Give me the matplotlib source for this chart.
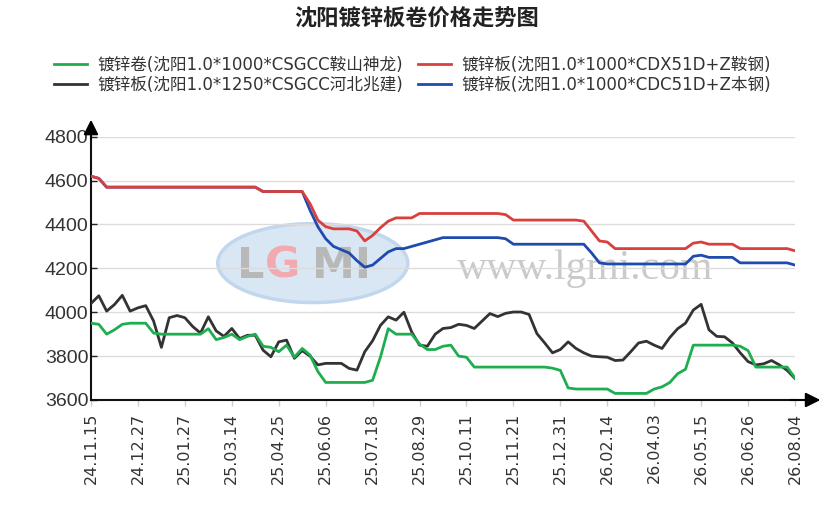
import matplotlib
matplotlib.use("Agg")
import matplotlib.pyplot as plt
from matplotlib.patches import Ellipse
import numpy as np

plt.rcParams['font.family'] = ['Noto Sans CJK SC', 'DejaVu Sans']

# tick labels shown every 6 points
date_labels = ['24.11.15', '24.12.27', '25.01.27', '25.03.14', '25.04.25', '25.06.06',
               '25.07.18', '25.08.29', '25.10.11', '25.11.21', '25.12.31', '26.02.14',
               '26.04.03', '26.05.15', '26.06.26', '26.08.04']

names = ['镀锌卷(沈阳1.0*1000*CSGCC鞍山神龙)',
         '镀锌板(沈阳1.0*1250*CSGCC河北兆建)',
         '镀锌板(沈阳1.0*1000*CDX51D+Z鞍钢)',
         '镀锌板(沈阳1.0*1000*CDC51D+Z本钢)']

green = [3950, 3945, 3900, 3920, 3945, 3950, 3950, 3950, 3905, 3900,
         3900, 3900, 3900, 3900, 3900, 3925, 3875, 3885, 3900, 3875,
         3890, 3900, 3845, 3840, 3820, 3850, 3795, 3835, 3805, 3730,
         3680, 3680, 3680, 3680, 3680, 3680, 3690, 3795, 3925, 3900,
         3900, 3900, 3855, 3830, 3830, 3845, 3850, 3800, 3795, 3750,
         3750, 3750, 3750, 3750, 3750, 3750, 3750, 3750, 3750, 3745,
         3735, 3655, 3650, 3650, 3650, 3650, 3650, 3630, 3630, 3630,
         3630, 3630, 3650, 3660, 3680, 3720, 3740, 3850, 3850, 3850,
         3850, 3850, 3850, 3845, 3825, 3750, 3750, 3750, 3750, 3750,
         3700]

black = [4040, 4075, 4005, 4035, 4077, 4005, 4020, 4030, 3960, 3840,
         3975, 3985, 3975, 3935, 3905, 3979, 3915, 3890, 3926, 3880,
         3895, 3895, 3827, 3797, 3865, 3873, 3790, 3825, 3800, 3760,
         3767, 3767, 3767, 3744, 3736, 3820, 3870, 3940, 3979, 3964,
         4000, 3910, 3850, 3845, 3900, 3926, 3930, 3945, 3940, 3926,
         3960, 3994, 3980, 3995, 4001, 4001, 3990, 3903, 3860, 3815,
         3830, 3865, 3835, 3815, 3800, 3797, 3795, 3780, 3782, 3820,
         3860, 3868, 3850, 3835, 3885, 3925, 3950, 4010, 4036, 3920,
         3890, 3888, 3860, 3815, 3775, 3760, 3765, 3780, 3760, 3735,
         3698]

red = [4620, 4610, 4570, 4570, 4570, 4570, 4570, 4570, 4570, 4570,
       4570, 4570, 4570, 4570, 4570, 4570, 4570, 4570, 4570, 4570,
       4570, 4570, 4550, 4550, 4550, 4550, 4550, 4550, 4495, 4420,
       4390, 4380, 4380, 4380, 4370, 4325, 4350, 4385, 4415, 4430,
       4430, 4430, 4450, 4450, 4450, 4450, 4450, 4450, 4450, 4450,
       4450, 4450, 4450, 4445, 4420, 4420, 4420, 4420, 4420, 4420,
       4420, 4420, 4420, 4415, 4370, 4325, 4320, 4290, 4290, 4290,
       4290, 4290, 4290, 4290, 4290, 4290, 4290, 4315, 4320, 4310,
       4310, 4310, 4310, 4290, 4290, 4290, 4290, 4290, 4290, 4290,
       4280]

blue = [4620, 4610, 4570, 4570, 4570, 4570, 4570, 4570, 4570, 4570,
        4570, 4570, 4570, 4570, 4570, 4570, 4570, 4570, 4570, 4570,
        4570, 4570, 4550, 4550, 4550, 4550, 4550, 4550, 4465, 4390,
        4335, 4300, 4285, 4270, 4235, 4205, 4215, 4245, 4275, 4290,
        4290, 4300, 4310, 4320, 4330, 4340, 4340, 4340, 4340, 4340,
        4340, 4340, 4340, 4335, 4310, 4310, 4310, 4310, 4310, 4310,
        4310, 4310, 4310, 4310, 4270, 4225, 4220, 4220, 4220, 4220,
        4220, 4220, 4220, 4220, 4220, 4220, 4220, 4255, 4260, 4250,
        4250, 4250, 4250, 4225, 4225, 4225, 4225, 4225, 4225, 4225,
        4215]

colors = ['#1eae50', '#333333', '#d9403d', '#1f4aae']

fig = plt.figure(figsize=(8.3, 5.21), dpi=100)
ax = fig.add_axes([91 / 830, 121 / 521, 704 / 830, 263.3 / 521])

x = np.arange(len(green))
ax.set_xlim(0, len(green) - 1)
ax.set_ylim(3600, 4800)

# watermark
ax.add_patch(Ellipse((0.315, 0.52), 0.27, 0.30, transform=ax.transAxes,
                     facecolor='#d9e7f5', edgecolor='#c2d7ee', lw=2.5, zorder=0))
wm = dict(transform=ax.transAxes, fontsize=31, fontweight='bold', va='center',
          ha='center', family='DejaVu Sans', zorder=0.5)
ax.text(0.227, 0.51, 'L', color='#b8b8b8', **wm)
ax.text(0.272, 0.51, 'G', color='#f2a9af', **wm)
ax.text(0.356, 0.51, 'MI', color='#b8b8b8', **wm)
ax.text(0.702, 0.50, 'www.lgmi.com', transform=ax.transAxes, fontsize=30,
        color='#cacaca', family='Liberation Serif', ha='center', va='center', zorder=0.5)

for v in range(3800, 4801, 200):
    ax.axhline(v, color='#dcdcdc', lw=1, zorder=1)

series = [green, black, red, blue]
zorders = [4, 3, 6, 5]
handles = []
for vals, name, col, zo in zip(series, names, colors, zorders):
    h, = ax.plot(x, vals, color=col, lw=2, label=name, zorder=zo,
                 solid_joinstyle='round')
    handles.append(h)

ax.set_yticks(range(3600, 4801, 200))
ax.set_xticks(x[::6])
ax.set_xticklabels(date_labels, rotation=90, family='DejaVu Sans', fontsize=11.5,
                   color='#333333')
for lab in ax.get_yticklabels():
    lab.set_family('Liberation Sans')
    lab.set_fontsize(14)
    lab.set_color('#333333')
ax.tick_params(axis='y', direction='in', length=4, width=1, color='#222222', pad=2)
ax.tick_params(axis='x', direction='out', length=4, width=1, color='#cccccc', pad=5)

for s in ['top', 'right']:
    ax.spines[s].set_visible(False)
for s in ['left', 'bottom']:
    ax.spines[s].set_color('#111111')
    ax.spines[s].set_linewidth(1.5)

# axis arrows
ax.annotate('', xy=(1.04, 0), xytext=(0.99, 0), xycoords='axes fraction',
            arrowprops=dict(arrowstyle='-|>', color='black', lw=1.5, mutation_scale=22),
            annotation_clip=False)
ax.annotate('', xy=(0, 1.075), xytext=(0, 0.98), xycoords='axes fraction',
            arrowprops=dict(arrowstyle='-|>', color='black', lw=1.5, mutation_scale=22),
            annotation_clip=False)

fig.text(0.502, 1 - 19 / 521, '沈阳镀锌板卷价格走势图', ha='center', va='center',
         fontsize=16, fontweight='bold', color='#222222')

fig.legend(handles=handles, labels=names, ncol=2, loc='center',
           bbox_to_anchor=(0.497, 1 - 75 / 521), frameon=False,
           prop={'family': ['DejaVu Sans', 'Noto Sans CJK SC'], 'size': 12},
           handlelength=2.0, columnspacing=0.9, handletextpad=0.6, labelspacing=0.1,
           labelcolor='#333333')

fig.savefig('out.png', dpi=100)
